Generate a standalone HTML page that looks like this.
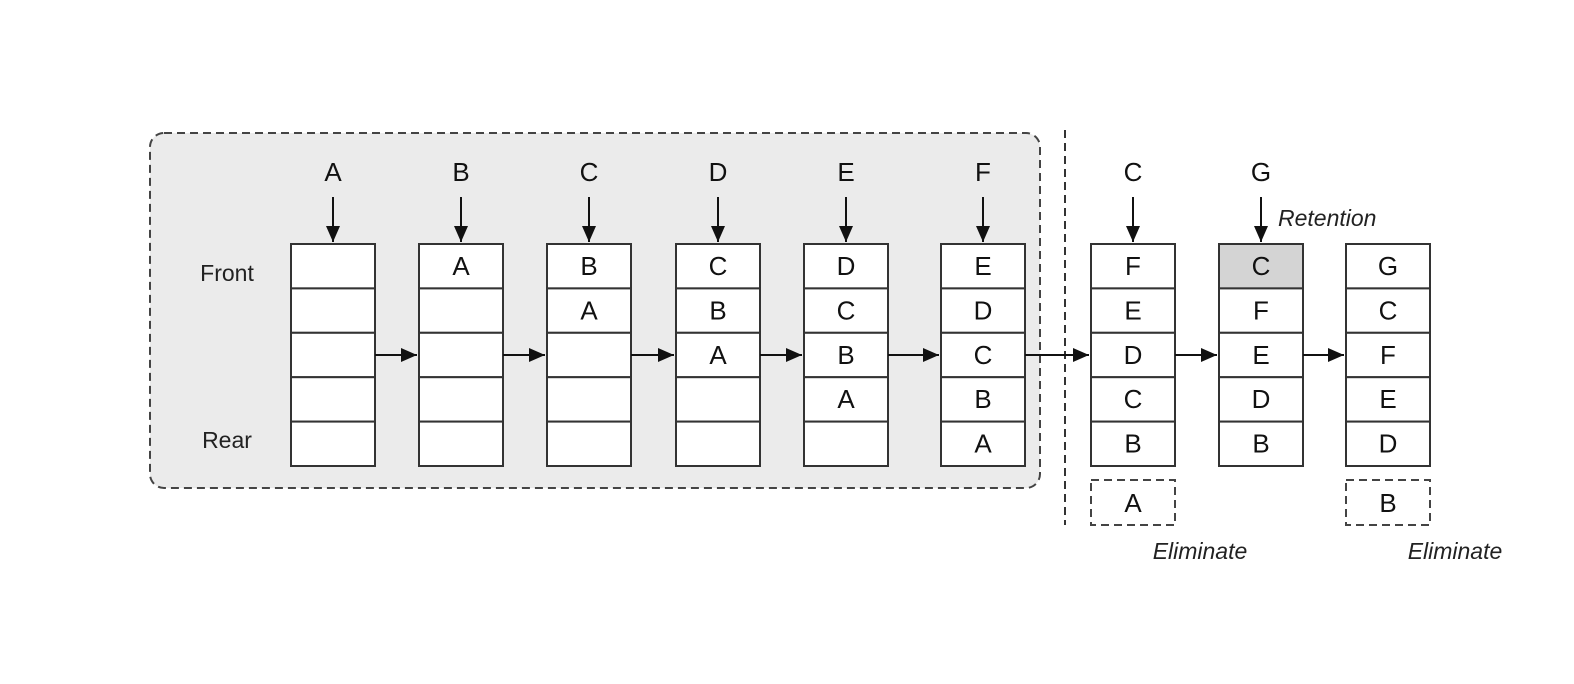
<!DOCTYPE html>
<html><head><meta charset="utf-8"><style>
html,body{margin:0;padding:0;background:#fff;}
svg{display:block;font-family:"Liberation Sans",Arial,sans-serif;}
</style></head><body>
<svg id="chart" width="1574" height="684" viewBox="0 0 1574 684" xmlns="http://www.w3.org/2000/svg">
<defs><marker id="ah" viewBox="0 0 10 10" refX="10" refY="5" markerWidth="10" markerHeight="10" markerUnits="userSpaceOnUse" orient="auto"><path d="M0,0 L10,5 L0,10 z" fill="#111"/></marker>
<marker id="ah2" viewBox="0 0 16 14" refX="16" refY="7" markerWidth="16" markerHeight="14" markerUnits="userSpaceOnUse" orient="auto"><path d="M0,0 L16,7 L0,14 z" fill="#111"/></marker></defs>
<rect x="150" y="133" width="890" height="355" rx="14" fill="#ebebeb" stroke="#444" stroke-width="2" stroke-dasharray="8,5"/>
<line x1="1065" y1="130" x2="1065" y2="525" stroke="#333" stroke-width="2" stroke-dasharray="8,5"/>
<text x="227" y="281" font-size="23" text-anchor="middle" fill="#222">Front</text>
<text x="227" y="448" font-size="23" text-anchor="middle" fill="#222">Rear</text>
<text x="1278" y="226" font-size="23" font-style="italic" fill="#222">Retention</text>
<g id="g"></g>
</svg>
<script>
const inputs=["A","B","C","D","E","F","C","G",""];
const colX=[291,419,547,676,804,941,1091,1219,1346];
const states=[["","","","",""],["A","","","",""],["B","A","","",""],["C","B","A","",""],["D","C","B","A",""],["E","D","C","B","A"],["F","E","D","C","B"],["C","F","E","D","B"],["G","C","F","E","D"]];
const evicted=[null,null,null,null,null,null,"A",null,"B"];
const highlight=[[7,0]];
const NS="http://www.w3.org/2000/svg";
const g=document.getElementById("g");
const W=84,TOP=244,RH=44.4;
function mk(t,a){const e=document.createElementNS(NS,t);for(const k in a)e.setAttribute(k,a[k]);g.appendChild(e);return e;}
states.forEach((st,i)=>{
 const x=colX[i];
 st.forEach((v,r)=>{
  const hl=highlight.some(h=>h[0]===i&&h[1]===r);
  const c=mk("rect",{x:x,y:TOP+r*RH,width:W,height:RH,fill:hl?"#d4d4d4":"#fff",stroke:"#333","stroke-width":2});
  
  
  if(v){const t=mk("text",{x:x+W/2,y:TOP+r*RH+31,"font-size":26,"text-anchor":"middle",fill:"#111"});t.textContent=v;
  
  }
 });
 if(inputs[i]){
  const t=mk("text",{x:x+W/2,y:181,"font-size":26,"text-anchor":"middle",fill:"#111"});t.textContent=inputs[i];
  
  
  const a=mk("line",{x1:x+W/2,y1:197,x2:x+W/2,y2:242,stroke:"#111","stroke-width":2,"marker-end":"url(#ah2)"});
  
  
 }
 if(i<states.length-1){
  const a=mk("line",{x1:x+W,y1:355,x2:colX[i+1]-2,y2:355,stroke:"#111","stroke-width":2,"marker-end":"url(#ah2)"});
  
  
 }
 if(evicted[i]){
  const b=mk("rect",{x:x,y:480,width:W,height:45,fill:"#fff",stroke:"#444","stroke-width":2,"stroke-dasharray":"8,5"});
  
  
  const t=mk("text",{x:x+W/2,y:512,"font-size":26,"text-anchor":"middle",fill:"#111"});t.textContent=evicted[i];
  
  
  const l=mk("text",{x:x+W/2+67,y:559,"font-size":23,"font-style":"italic","text-anchor":"middle",fill:"#222"});l.textContent="Eliminate";
  
  
 }
});
</script>
</body></html>
